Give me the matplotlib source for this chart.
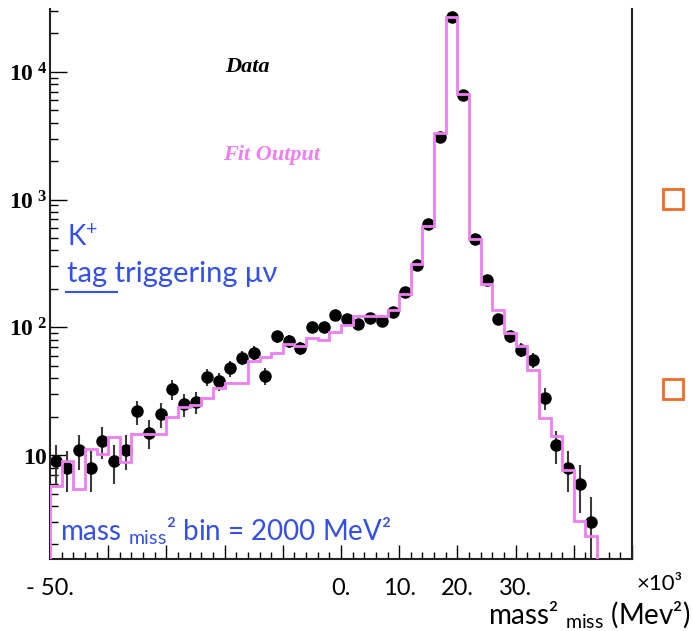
import numpy as np
import matplotlib
matplotlib.use("Agg")
import matplotlib.pyplot as plt
from matplotlib.patches import Rectangle
from matplotlib.lines import Line2D

plt.rcParams['font.family'] = ['Lato', 'DejaVu Sans']
plt.rcParams['mathtext.fontset'] = 'custom'
plt.rcParams['mathtext.rm'] = 'Lato'
plt.rcParams['mathtext.it'] = 'Lato:italic'
plt.rcParams['mathtext.bf'] = 'Liberation Serif:bold'

# bins of 2 (x10^3 MeV^2), centres -49 ... 43
bin_centres = list(range(-49, 45, 2))
data_counts = [9, 8, 11, 8, 13, 9, 11, 22, 15, 21,
               33, 25, 26, 41, 38, 48, 58, 63, 42, 85,
               78, 69, 100, 100, 124, 116, 107, 119, 112, 131,
               189, 309, 646, 3070, 26600, 6610, 493, 233, 117, 85,
               67, 56, 28, 12, 8, 6, 3]
fit_counts = [5.7, 9.0, 5.4, 11.1, 10.2, 13.9, 8.9, 14.6, 14.6, 14.6,
              20, 23.8, 24.5, 28.2, 33.8, 36.6, 36.6, 54.5, 58.6, 63,
              74, 71, 83, 79, 92, 105, 122, 122, 122, 136,
              183, 315, 616, 3300, 26600, 6700, 493, 217, 138, 90,
              71, 46, 19.7, 14, 7.7, 3.07, 2.33]
bin_edges = list(range(-50, 46, 2))

xtick_major = [-50, -40, -30, -20, -10, 0, 10, 20, 30, 40, 50]
xtick_text = ['- 50.', '', '', '', '', '0.', '10.', '20.', '30.', '', '']
ytick_major = [10, 100, 1000, 10000]
ytick_text = [r'$\mathbf{10}$', r'$\mathbf{10^{\ 2}}$', r'$\mathbf{10^{\ 3}}$', r'$\mathbf{10^{\ 4}}$']

BLUE = '#3450ea'
MAGENTA = '#ee7ff2'

fig = plt.figure(figsize=(6.93, 6.31), dpi=100)
ax = fig.add_axes([50/693, 1-559/631, 582/693, 550/631])

counts = np.array(data_counts, dtype=float)
err = np.sqrt(counts)
ax.errorbar(bin_centres, counts, yerr=err, fmt='o', color='black', ms=8,
            ecolor='#3a3a3a', elinewidth=1.5, capsize=0, zorder=2)
ax.stairs(fit_counts, bin_edges, baseline=1e-3, color=MAGENTA, lw=2, zorder=3)

ax.set_yscale('log')
ax.set_xlim(-50, 50)
ax.set_ylim(1.54, 31000)

ax.set_xticks(xtick_major)
ax.set_xticklabels(xtick_text, fontsize=17)
ax.set_xticks(np.arange(-50, 51, 2), minor=True)
ax.set_yticks(ytick_major)
ax.set_yticklabels(ytick_text, fontsize=17)
ax.tick_params(axis='x', which='major', direction='in', length=10, width=1, pad=14)
ax.tick_params(axis='x', which='minor', direction='in', length=5, width=1)
ax.tick_params(axis='y', which='major', direction='in', length=12, width=1, pad=2)
ax.tick_params(axis='y', which='minor', direction='in', length=6, width=1)
ax.spines['top'].set_visible(False)
for s in ['left', 'bottom', 'right']:
    ax.spines[s].set_linewidth(1.5)
    ax.spines[s].set_color('#222222')

ax.text(0.339, 0.895, 'Data', transform=ax.transAxes, fontsize=16,
        family='Liberation Serif', weight='bold', style='italic', ha='center', va='center')
ax.text(0.297, 0.735, 'Fit Output', transform=ax.transAxes, fontsize=16,
        family='Liberation Serif', weight='bold', style='italic', color=MAGENTA,
        ha='left', va='center')

ax.text(0.029, 0.57, r'K$^{+}$', transform=ax.transAxes, fontsize=20, color=BLUE, va='baseline')
ax.text(0.029, 0.504, 'tag triggering μν', transform=ax.transAxes, fontsize=21,
        color=BLUE, va='baseline')
ax.add_line(Line2D([0.028, 0.115], [0.486, 0.486], transform=ax.transAxes,
                   color=BLUE, lw=1.5))
ax.text(0.017, 0.034, r'mass $_{\mathrm{miss}}$² bin = 2000 MeV²', transform=ax.transAxes,
        fontsize=20, color=BLUE, va='baseline')

fig.text(683/693, 1-590/631, '×10³', fontsize=16, ha='right', va='baseline')
fig.text(690/693, 1-623/631, r'mass² $_{\mathrm{miss}}$ (Mev²)', fontsize=20,
         ha='right', va='baseline')

for ytop in [189, 379]:
    fig.add_artist(Rectangle((663/693, 1-(ytop+20)/631), 20/693, 20/631,
                             transform=fig.transFigure, fill=False,
                             edgecolor='#f06a28', lw=2))

fig.savefig('out.png', dpi=100)
